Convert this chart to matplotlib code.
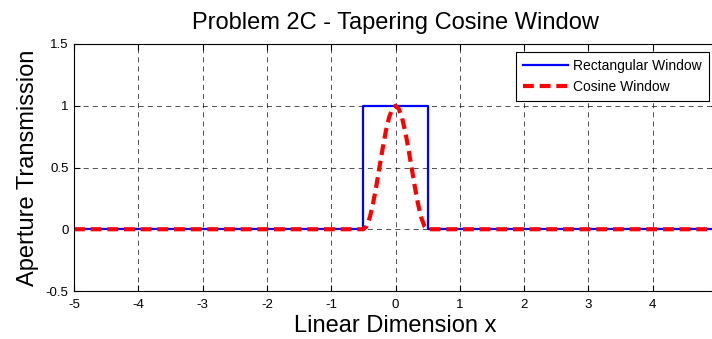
import matplotlib.pyplot as plt
import numpy as np

plt.rcParams['font.family'] = ['Liberation Sans', 'DejaVu Sans']

# rectangular window
rect_x = [-5, -0.5, -0.5, 0.5, 0.5, 5]
rect_y = [0, 0, 1, 1, 0, 0]

# cosine window
cos_x = [-5, -0.5, -0.45, -0.4, -0.35, -0.3, -0.25, -0.2, -0.15, -0.1, -0.05, 0,
         0.05, 0.1, 0.15, 0.2, 0.25, 0.3, 0.35, 0.4, 0.45, 0.5, 5]
cos_y = [0, 0, 0.024, 0.095, 0.206, 0.345, 0.5, 0.655, 0.794, 0.905, 0.976, 1,
         0.976, 0.905, 0.794, 0.655, 0.5, 0.345, 0.206, 0.095, 0.024, 0, 0]

xticks = [-5, -4, -3, -2, -1, 0, 1, 2, 3, 4]
yticks = [-0.5, 0, 0.5, 1, 1.5]
yticklabels = ['-0.5', '0', '0.5', '1', '1.5']

fig = plt.figure(figsize=(7.12, 3.39), dpi=100)
ax = fig.add_axes([74/712, 1 - 291/339, 643/712, 247/339])

ax.plot(rect_x, rect_y, color='blue', lw=1.6, label='Rectangular Window')
ax.plot(cos_x, cos_y, color='red', lw=3, dashes=(2.6, 1.4), label='Cosine Window')

ax.set_xlim(-5, 5)
ax.set_ylim(-0.5, 1.5)
ax.set_xticks(xticks)
ax.set_xticklabels([str(t) for t in xticks])
ax.set_yticks(yticks)
ax.set_yticklabels(yticklabels)
ax.tick_params(direction='in', top=True, right=True, length=4, labelsize=9.5, width=0.8, pad=4)
ax.tick_params(axis='x', pad=6)
ax.grid(True, color='black', lw=0.6, dashes=(6, 5), alpha=0.8)
for s in ax.spines.values():
    s.set_linewidth(0.8)

ax.set_title('Problem 2C - Tapering Cosine Window', fontsize=17, pad=11)
ax.set_xlabel('Linear Dimension x', fontsize=17, labelpad=3)
ax.set_ylabel('Aperture Transmission', fontsize=17, labelpad=5)

leg = ax.legend(loc='upper right', bbox_to_anchor=(709/712, 1 - 52/339), bbox_transform=fig.transFigure,
                borderaxespad=0, fontsize=10, fancybox=False, edgecolor='black', framealpha=1,
                handlelength=3.2, handletextpad=0.4, borderpad=0.5, labelspacing=0.5)
leg.get_frame().set_linewidth(0.8)

fig.savefig('out.png', dpi=100)
